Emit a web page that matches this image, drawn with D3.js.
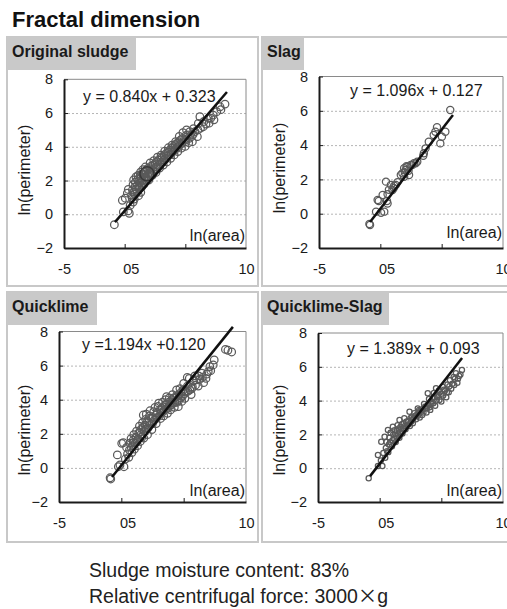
<!DOCTYPE html>
<html>
<head>
<meta charset="utf-8">
<script src="https://cdn.jsdelivr.net/npm/d3@7"></script>
<style>
  body { margin: 0; background: #fff; }
  svg { display: block; font-family: "Liberation Sans", Arial, sans-serif; }
</style>
</head>
<body>
<div id="chart"></div>
<script>
// panel titles and regression equations
const panelNames = ["Original sludge", "Slag", "Quicklime", "Quicklime-Slag"];
const equations = ["y = 0.840x + 0.323", "y = 1.096x + 0.127", "y =1.194x +0.120", "y = 1.389x + 0.093"];

// axis ticks
const yTicks = [8, 6, 4, 2, 0, -2];
const gridTicks = [6, 4, 2, 0];
const xTickMarks = [0, 5];
const xLabelValues = [-5, 0.5, 10];
const xLabelText = ["-5", "05", "10"];

// points: [ln(area), ln(perimeter)]
const sludgePts = [
  [-0.85,-0.62],[-0.19,0.83],[-0.11,0.14],[0.38,0.06],[0.28,0.2],[0.3,1.47],[0.05,0.95],[0.45,0.52],[0.57,1.12],[0.7,0.72],[0.22,1.25],
  [0.61,0.98],[0.64,1.44],[0.69,1.76],[0.74,2.04],[0.82,1.2],[0.85,1.62],[0.88,1.9],[0.93,2.21],[0.79,0.9],
  [1.01,1.32],[1.04,1.7],[1.07,2.06],[1.1,2.3],[1.14,1.1],[1.21,1.52],[1.24,1.86],[1.27,2.27],[1.31,2.5],[1.33,1.3],
  [1.42,1.64],[1.44,2.0],[1.47,2.38],[1.5,2.64],[1.59,1.78],[1.63,2.19],[1.66,2.48],[1.7,2.8],
  [1.98,2.02],[2.03,2.38],[2.06,2.7],[2.1,3.04],[2.27,2.3],[2.33,2.6],[2.36,2.92],[2.4,3.18],
  [2.58,2.48],[2.63,2.8],[2.66,3.12],[2.7,3.38],[2.88,2.74],[2.93,3.0],[2.97,3.31],[3.0,3.5],
  [3.18,2.92],[3.23,3.21],[3.26,3.48],[3.3,3.74],[3.48,3.1],[3.53,3.44],[3.57,3.68],[3.6,3.94],
  [3.79,3.32],[3.83,3.58],[3.86,3.9],[3.9,4.1],[4.08,3.52],[4.13,3.8],[4.16,4.12],[4.2,4.3],
  [4.38,3.72],[4.43,4.0],[4.46,4.3],[4.5,4.62],[4.68,3.92],[4.73,4.2],[4.77,4.5],[4.8,4.84],
  [4.98,4.02],[5.03,4.3],[5.06,4.68],[5.1,5.0],[5.28,4.24],[5.33,4.5],[5.37,4.9],
  [5.58,4.3],[5.63,4.72],[5.67,5.08],[5.99,4.6],[6.03,5.0],[6.07,5.38],[6.2,5.78],
  [6.48,5.19],[6.53,5.5],[6.9,5.68],[6.96,5.4],[7.3,5.88],[7.36,5.6],[7.59,6.08],[7.86,6.37],[7.93,6.2],[8.27,6.53],
  [0.72,1.3],[0.95,1.5],[1.15,1.95],[1.18,1.62],[1.35,2.15],[1.37,1.85],[1.55,2.35],[1.57,2.05],[1.75,2.2],[1.78,2.55],
  [1.88,2.7],[1.9,2.3],[2.15,2.55],[2.18,2.85],[2.45,2.7],[2.5,3.0],[2.78,2.9],[2.8,3.2],[3.08,3.1],[3.1,3.4],
  [3.38,3.3],[3.4,3.6],[3.68,3.5],[3.7,3.8],[3.96,3.75],[4.0,4.0],[4.28,3.95],[4.3,4.2],[4.58,4.15],[4.6,4.4],
  [4.9,4.4],[5.2,4.7],[5.5,4.6],[5.8,4.9],[6.25,5.1],[6.7,5.35],[7.1,5.7]
];
const sludgeBig = [[1.84, 2.4]];

const slagPts = [
  [-0.89,-0.6],[-0.84,-0.66],[-0.22,0.8],[-0.35,0.12],[0.06,0.06],[0.32,0.12],[-0.13,0.74],[0.19,1.09],[0.59,1.13],[0.54,0.74],
  [0.46,1.87],[0.59,0.6],[0.86,1.67],[0.99,1.38],[1.13,1.63],[1.26,1.67],[1.4,1.83],[1.67,2.26],[1.8,2.36],[1.94,2.16],
  [1.94,2.65],[2.07,2.55],[2.13,2.77],[2.2,2.74],[2.34,2.26],[2.48,2.84],[2.6,2.84],[2.74,2.94],[2.88,2.94],[3.01,3.03],
  [3.55,3.52],[3.5,3.38],[3.69,3.81],[3.95,4.2],[4.35,4.59],[4.49,4.78],[4.62,5.04],[4.89,4.1],[5.02,4.49],[5.3,4.78],
  [5.7,6.05],[0.7,1.4],[1.1,1.5],[2.0,2.4],[2.3,2.5]
];

const quicklimePts = [
  [-0.85,-0.65],[-0.9,-0.58],[-0.32,0.76],[-0.24,0.07],[0.21,0.07],[-0.11,0.17],[0.16,1.48],[0.03,1.44],[0.32,0.52],[0.5,0.82],[0.42,1.2],
  [0.6,0.62],[0.65,1.05],[0.7,1.45],[0.78,1.72],[0.85,0.9],[0.9,1.3],[0.95,1.62],[1.0,1.95],[1.05,1.1],
  [1.12,1.45],[1.18,1.8],[1.22,2.15],[1.3,1.3],[1.35,1.7],[1.4,2.05],[1.45,2.45],[1.52,1.55],[1.58,1.95],[1.62,2.3],[1.7,2.65],[1.76,3.1],
  [1.8,1.75],[1.85,2.15],[1.9,2.5],[1.95,2.85],[2.0,3.15],[2.1,1.95],[2.15,2.35],[2.2,2.7],[2.25,3.05],[2.3,3.35],
  [2.45,2.25],[2.5,2.6],[2.55,2.95],[2.6,3.3],[2.7,3.55],[2.8,2.6],[2.85,2.95],[2.9,3.25],[2.95,3.6],[3.0,3.8],
  [3.15,2.9],[3.2,3.2],[3.25,3.5],[3.3,3.85],[3.4,3.05],[3.45,3.4],[3.5,3.7],[3.55,4.0],[3.63,4.18],
  [3.7,3.2],[3.75,3.5],[3.8,3.85],[3.85,4.1],[3.95,3.4],[4.0,3.7],[4.05,4.0],[4.1,4.3],
  [4.25,3.55],[4.3,3.85],[4.35,4.15],[4.43,4.57],[4.57,3.59],[4.6,3.95],[4.65,4.3],[4.7,4.65],
  [4.85,3.9],[4.9,4.2],[4.95,4.55],[5.0,4.95],[5.1,4.08],[5.2,4.45],[5.29,5.31],[5.3,4.8],[5.45,5.25],[5.5,4.57],
  [5.6,4.3],[5.7,4.75],[5.8,5.1],[5.9,5.4],[6.04,5.16],[6.17,4.8],[6.3,5.2],[6.45,5.55],[6.6,5.0],[6.79,5.25],
  [6.97,5.64],[7.1,5.94],[7.17,5.7],[7.37,6.04],[7.45,6.33],[8.35,6.95],[8.55,6.9],[8.85,6.8],
  [0.8,1.2],[1.0,1.5],[1.25,1.6],[1.5,2.1],[1.65,1.8],[1.75,2.4],[2.0,2.3],[2.05,2.65],[2.35,2.55],[2.4,2.9],
  [2.65,2.8],[2.75,3.1],[3.05,3.05],[3.1,3.4],[3.35,3.3],[3.6,3.45],[3.65,3.75],[3.9,3.65],[4.15,3.8],[4.2,4.1],
  [4.45,3.85],[4.5,4.25],[4.75,4.1],[4.8,4.45],[5.05,4.35],[5.35,4.5],[5.65,4.65],[5.95,4.85],[6.2,5.4],[6.5,5.3],[6.85,5.5]
];

const qsPts = [
  [-0.89,-0.6],[-0.14,0.13],[0.22,0.13],[-0.14,0.78],[0.13,1.57],[0.1,0.45],[0.3,0.9],
  [0.4,1.86],[0.45,0.62],[0.5,1.2],[0.55,1.55],[0.67,2.26],[0.7,0.95],[0.75,1.4],[0.8,1.8],[0.88,2.1],
  [1.0,1.3],[1.05,1.65],[1.07,2.46],[1.1,2.0],[1.2,2.25],[1.3,1.55],[1.35,1.9],[1.4,2.2],[1.45,2.55],
  [1.61,2.85],[1.6,1.8],[1.65,2.15],[1.7,2.45],[1.85,2.05],[1.9,2.35],[1.95,2.65],[2.0,2.95],
  [2.1,2.3],[2.2,2.55],[2.3,2.8],[2.42,3.34],[2.45,2.5],[2.55,2.75],[2.6,3.05],[2.69,2.66],[2.75,2.95],[2.8,3.25],
  [2.95,2.9],[3.0,3.15],[3.09,3.54],[3.15,3.3],[3.25,3.0],[3.3,3.4],[3.45,3.15],[3.5,3.5],[3.6,3.8],
  [3.76,3.54],[3.8,3.3],[3.9,4.43],[3.95,3.75],[4.0,4.1],[4.1,3.45],[4.2,3.8],[4.3,4.15],[4.4,4.45],
  [4.5,3.7],[4.57,4.73],[4.6,4.0],[4.7,4.35],[4.84,4.04],[4.9,4.5],[5.0,3.95],[5.1,4.82],[5.15,4.3],
  [5.3,4.6],[5.4,4.2],[5.5,4.95],[5.6,4.5],[5.7,5.2],[5.8,4.7],[6.05,4.92],[6.1,5.3],[6.18,5.62],[6.3,5.05],[6.45,5.45],[6.67,5.81],
  [0.6,1.0],[0.85,1.55],[1.15,1.75],[1.25,2.05],[1.5,2.0],[1.55,2.35],[1.75,2.3],[1.8,2.6],[2.05,2.5],[2.15,2.75],
  [2.35,2.6],[2.5,2.95],[2.65,2.85],[2.9,3.1],[3.1,3.1],[3.2,3.45],[3.4,3.35],[3.55,3.3],[3.7,3.65],[3.85,3.55],
  [4.05,3.6],[4.15,3.95],[4.35,3.85],[4.45,4.2],[4.65,4.2],[4.8,4.6],[5.0,4.4],[5.2,4.65],[5.45,4.5],[5.65,4.85],
  [5.9,5.0],[6.0,5.4],[6.35,5.3],[6.55,5.55]
];

// fitted lines as drawn: [[x0,y0],[x1,y1]]
const sludgeLine = [[-0.8,-0.47],[8.43,7.25]];
const slagLine = [[-0.84,-0.48],[5.92,5.76]];
const quicklimeLine = [[-0.75,-0.53],[8.95,8.27]];
const qsLine = [[-0.78,-0.47],[6.68,6.52]];

const bottomNotes = ["Sludge moisture content: 83%", "Relative centrifugal force: 3000"];

// layout of the four panels
const panels = [
  {pts: sludgePts, big: sludgeBig, line: sludgeLine, r: 3.8,
   box: {x: 7, y: 37, w: 251, h: 249}, tagW: 129,
   plot: {l: 64, r: 246, t: 79.3, b: 248}, eq: [83, 102], area: 7, ylab: [24, 170]},
  {pts: slagPts, big: [], line: slagLine, r: 3.6,
   box: {x: 262, y: 37, w: 262, h: 249}, tagW: 42,
   plot: {l: 319, r: 503, t: 76.5, b: 248}, eq: [350, 96], area: 10, ylab: [279, 168]},
  {pts: quicklimePts, big: [], line: quicklimeLine, r: 3.8,
   box: {x: 7, y: 292, w: 251, h: 250}, tagW: 90,
   plot: {l: 59, r: 246, t: 331.5, b: 502}, eq: [82, 350], area: 6, ylab: [24, 430]},
  {pts: qsPts, big: [], line: qsLine, r: 2.6,
   box: {x: 262, y: 292, w: 262, h: 250}, tagW: 127,
   plot: {l: 318, r: 503, t: 333, b: 502}, eq: [347, 354], area: 6, ylab: [279, 430]}
];

const width = 507, height = 609;
const svg = d3.select("#chart").append("svg")
  .attr("width", width)
  .attr("height", height);

svg.append("text")
  .attr("x", 12).attr("y", 27)
  .style("font-size", "22px").style("font-weight", "bold").style("fill", "#111")
  .text("Fractal dimension");

panels.forEach(function(p, i) {
  const g = svg.append("g");

  // panel frame and grey tag
  g.append("rect")
    .attr("x", p.box.x).attr("y", p.box.y)
    .attr("width", p.box.w).attr("height", p.box.h)
    .style("fill", "none").style("stroke", "#c8c8c8").style("stroke-width", 2);
  g.append("rect")
    .attr("x", p.box.x).attr("y", p.box.y)
    .attr("width", p.tagW).attr("height", 33)
    .style("fill", "#c9c9c9");
  g.append("text")
    .attr("x", p.box.x + 5).attr("y", p.box.y + 20)
    .style("font-size", "16px").style("font-weight", "bold").style("fill", "#1a1a1a")
    .text(panelNames[i]);

  const x = d3.scaleLinear().domain([-5, 10]).range([p.plot.l, p.plot.r]);
  const y = d3.scaleLinear().domain([-2, 8]).range([p.plot.b, p.plot.t]);
  const w = p.plot.r - p.plot.l;

  // dotted gridlines
  g.append("g")
    .attr("transform", `translate(${p.plot.l},0)`)
    .call(d3.axisLeft(y).tickValues(gridTicks).tickSize(-w).tickFormat(""))
    .call(a => a.select(".domain").remove())
    .call(a => a.selectAll("line").style("stroke", "#b5b5b5").style("stroke-dasharray", "2,2"));

  // top and right frame
  g.append("path")
    .attr("d", `M${p.plot.l},${p.plot.t}H${p.plot.r}V${p.plot.b}`)
    .style("fill", "none").style("stroke", "#8a8a8a").style("stroke-width", 1);

  // y axis
  g.append("g")
    .attr("transform", `translate(${p.plot.l},0)`)
    .call(d3.axisLeft(y).tickValues(yTicks).tickSize(-4).tickSizeOuter(0).tickPadding(11).tickFormat(d3.format("d")))
    .call(a => a.select(".domain").style("stroke", "#1a1a1a").style("stroke-width", 2))
    .call(a => a.selectAll("line").style("stroke", "#1a1a1a"))
    .call(a => a.selectAll("text").style("font-size", "14.5px").style("fill", "#1a1a1a")
      .style("font-family", "'Liberation Sans', Arial, sans-serif"));

  // x axis tick marks
  g.append("g")
    .attr("transform", `translate(0,${p.plot.b})`)
    .call(d3.axisBottom(x).tickValues(xTickMarks).tickSize(-4).tickSizeOuter(0).tickFormat(""))
    .call(a => a.select(".domain").style("stroke", "#1a1a1a").style("stroke-width", 2))
    .call(a => a.selectAll("line").style("stroke", "#1a1a1a"));

  // x axis labels
  g.append("g")
    .attr("transform", `translate(0,${p.plot.b})`)
    .call(d3.axisBottom(x).tickValues(xLabelValues).tickSize(0).tickPadding(16)
      .tickFormat((d, k) => xLabelText[k]))
    .call(a => a.select(".domain").remove())
    .call(a => a.selectAll("text").style("font-size", "14.5px").style("fill", "#1a1a1a")
      .style("font-family", "'Liberation Sans', Arial, sans-serif"));

  // axis titles
  g.append("text")
    .attr("transform", `translate(${p.ylab[0]},${p.ylab[1]}) rotate(-90)`)
    .attr("text-anchor", "middle").attr("dy", "0.35em")
    .style("font-size", "16px").style("fill", "#1a1a1a")
    .text("ln(perimeter)");
  g.append("text")
    .attr("x", p.plot.r - 1).attr("y", p.plot.b - p.area)
    .attr("text-anchor", "end")
    .style("font-size", "16px").style("fill", "#1a1a1a")
    .text("ln(area)");

  // points
  g.append("g").selectAll("circle")
    .data(p.pts)
    .join("circle")
      .attr("cx", d => x(d[0]))
      .attr("cy", d => y(d[1]))
      .attr("r", p.r)
      .style("fill", "none")
      .style("stroke", "#5a5a5a")
      .style("stroke-width", 1.25);
  g.append("g").selectAll("circle")
    .data(p.big)
    .join("circle")
      .attr("cx", d => x(d[0]))
      .attr("cy", d => y(d[1]))
      .attr("r", 7)
      .style("fill", "none")
      .style("stroke", "#3a3a3a")
      .style("stroke-width", 1.5);

  // fitted line
  g.append("path")
    .attr("d", d3.line().x(d => x(d[0])).y(d => y(d[1]))(p.line))
    .style("fill", "none").style("stroke", "#111").style("stroke-width", 2.5);

  // equation
  g.append("text")
    .attr("x", p.eq[0]).attr("y", p.eq[1])
    .style("font-size", "16px").style("fill", "#1a1a1a")
    .text(equations[i]);
});

// notes under the chart
svg.append("text")
  .attr("x", 89).attr("y", 577)
  .style("font-size", "19.5px").style("fill", "#222")
  .text(bottomNotes[0]);
const note2 = svg.append("text")
  .attr("x", 89).attr("y", 603)
  .style("font-size", "19.5px").style("fill", "#222");
note2.append("tspan").text(bottomNotes[1]);
note2.append("tspan").style("font-family", "'Noto Sans CJK SC', sans-serif").text("×");
note2.append("tspan").text("g");
</script>
</body>
</html>
